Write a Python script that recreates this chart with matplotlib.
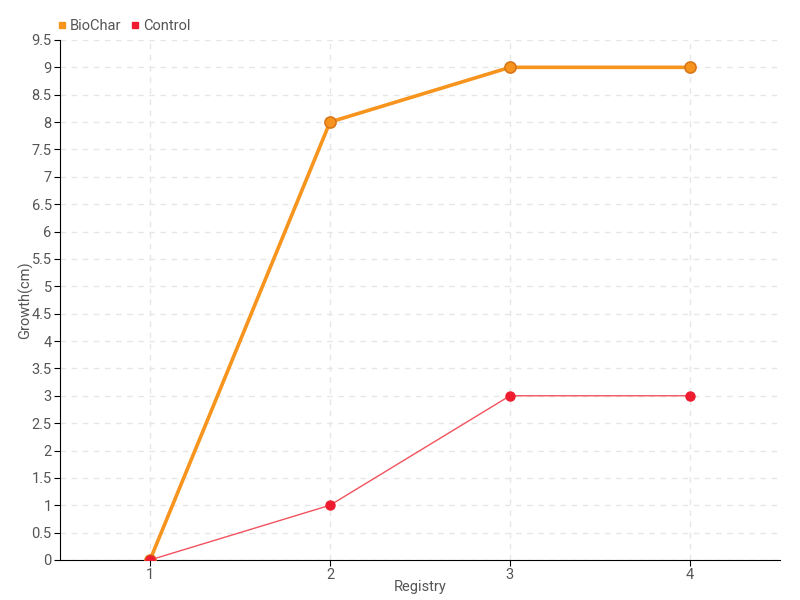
import matplotlib

matplotlib.use("Agg")
import matplotlib.pyplot as plt
from matplotlib.lines import Line2D

plt.rcParams["font.family"] = ["Liberation Sans Narrow", "Roboto", "DejaVu Sans"]

registry = [1, 2, 3, 4]
biochar = [0, 8, 9, 9]
control = [0, 1, 3, 3]
y_ticks = [0, 0.5, 1, 1.5, 2, 2.5, 3, 3.5, 4, 4.5, 5, 5.5, 6, 6.5, 7, 7.5, 8, 8.5, 9, 9.5]

ORANGE = "#f7941d"
RED = "#ee1c2e"
TEXT = "#555555"

fig = plt.figure(figsize=(8, 6), dpi=100)
ax = fig.add_axes([0.075, 0.0667, 0.9, 0.8667])

ax.plot(registry, biochar, color=ORANGE, lw=2.6, marker="o", ms=8,
        markerfacecolor=ORANGE, markeredgecolor="#d9761a", markeredgewidth=1.2, zorder=3)
ax.plot(registry, control, color="#f2525e", lw=1, marker="o", ms=6.5,
        markerfacecolor=RED, markeredgecolor=RED, zorder=4)

ax.set_xlim(0.5, 4.5)
ax.set_ylim(0, 9.5)
ax.set_xticks(registry)
ax.set_yticks(y_ticks)
ax.set_yticklabels([f"{t:g}" for t in y_ticks])
ax.grid(True, color="#e6e6e6", linestyle=(0, (4, 4)), linewidth=1)
ax.set_axisbelow(True)

for side in ("top", "right"):
    ax.spines[side].set_visible(False)
ax.spines["left"].set_color("black")
ax.spines["bottom"].set_color("black")
ax.tick_params(axis="both", colors="black", labelcolor=TEXT, labelsize=10.5, length=4, pad=2)

ax.set_xlabel("Registry", color=TEXT, fontsize=10.5, labelpad=-2)
ax.set_ylabel("Growth(cm)", color=TEXT, fontsize=10.5, labelpad=-1)

handles = [
    Line2D([], [], marker="s", ls="", color=ORANGE, ms=5, label="BioChar"),
    Line2D([], [], marker="s", ls="", color=RED, ms=5, label="Control"),
]
fig.legend(handles=handles, loc="upper left", bbox_to_anchor=(0.052, 0.99), ncol=2,
           frameon=False, fontsize=10.5, handletextpad=0.0, columnspacing=0.5,
           labelcolor=TEXT, handlelength=1.0)

fig.savefig("out.png", dpi=100)
